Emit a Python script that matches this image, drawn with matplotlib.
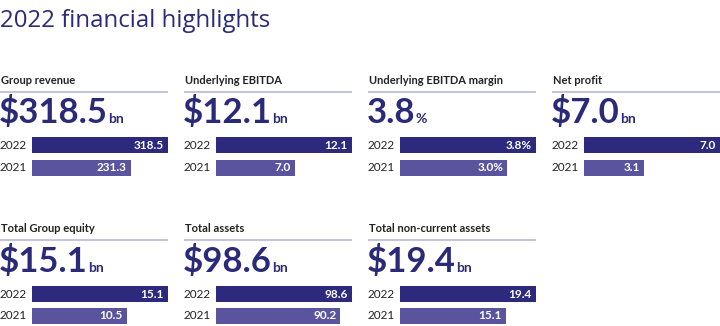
import matplotlib
matplotlib.use("Agg")
import matplotlib.pyplot as plt

# ---- data ----
metrics = ["Group revenue", "Underlying EBITDA", "Underlying EBITDA margin", "Net profit",
           "Total Group equity", "Total assets", "Total non-current assets"]
years = ["2022", "2021"]
values_2022 = [318.5, 12.1, 3.8, 7.0, 15.1, 98.6, 19.4]
values_2021 = [231.3, 7.0, 3.0, 3.1, 10.5, 90.2, 15.1]
prefixes = ["$", "$", "", "$", "$", "$", "$"]
units = ["bn", "bn", "%", "bn", "bn", "bn", "bn"]
bar_suffix = ["", "", "%", "", "", "", ""]

# ---- style ----
FONT = "Lato"
NAVY = "#2B2A78"
C2022 = "#2D2A7D"
C2021 = "#5A549F"
RULE = "#B9B9D6"
TEXT = "#222222"

W, H = 720, 326
fig = plt.figure(figsize=(W / 100, H / 100), dpi=100)
fig.patch.set_facecolor("white")

ov = fig.add_axes([0, 0, 1, 1])
ov.set_xlim(0, W)
ov.set_ylim(H, 0)
ov.axis("off")

ov.text(0, 27, "2022 financial highlights", fontsize=17.3, color=NAVY,
        family="Open Sans", va="baseline", ha="left")

col_x = [0, 184, 368, 552]
panel_w = 168
bar_off = 32
rows = [dict(label=84, rule=92, num=123, bar_top=137, bar_bot=176),
        dict(label=232, rule=240, num=272, bar_top=286, bar_bot=324)]


def to_fig(x, y):
    return x / W, 1 - y / H


big_texts = []
for i, name in enumerate(metrics):
    r = rows[i // 4]
    x0 = col_x[i % 4]
    ov.text(x0 + 1, r["label"], name, fontsize=8, fontweight="bold", color=TEXT,
            family=FONT, va="baseline", ha="left")
    ov.plot([x0, x0 + panel_w], [r["rule"], r["rule"]], color=RULE, lw=1.2,
            solid_capstyle="butt")
    t = ov.text(x0 - 1, r["num"], f"{prefixes[i]}{values_2022[i]:.1f}", fontsize=25,
                fontweight="bold", color=NAVY, family=FONT, va="baseline", ha="left")
    big_texts.append((t, units[i], r["num"]))

    # bars drawn on their own axes so lengths follow the value scale
    left, bottom = to_fig(x0 + bar_off, r["bar_bot"])
    ax = fig.add_axes([left, bottom, (panel_w - bar_off) / W,
                       (r["bar_bot"] - r["bar_top"]) / H])
    vals = [values_2022[i], values_2021[i]]
    h = 0.73
    ax.barh([0, 1], vals, height=h, color=[C2022, C2021], linewidth=0)
    ax.set_xlim(0, values_2022[i])
    ax.set_ylim(1 + h / 2, -h / 2)
    ax.axis("off")
    for k, v in enumerate(vals):
        ax.annotate(f"{v:.1f}{bar_suffix[i]}", xy=(v, k), xytext=(-3, 0),
                    textcoords="offset points", ha="right", va="center",
                    fontsize=8.5, color="white", family=FONT, fontweight="bold")
        yc = r["bar_top"] + (r["bar_bot"] - r["bar_top"]) * (k * 1 + h / 2) / (1 + h)
        ov.text(x0, yc, years[k], fontsize=8.5, color=TEXT, family=FONT,
                va="center", ha="left")

fig.canvas.draw()
renderer = fig.canvas.get_renderer()
inv = ov.transData.inverted()
for t, unit, yb in big_texts:
    bb = t.get_window_extent(renderer)
    xr, _ = inv.transform((bb.x1, bb.y0))
    ov.text(xr + 0.3, yb, unit, fontsize=10, color=NAVY, family=FONT,
            fontweight="bold", va="baseline", ha="left")

fig.savefig("out.png", dpi=100)
